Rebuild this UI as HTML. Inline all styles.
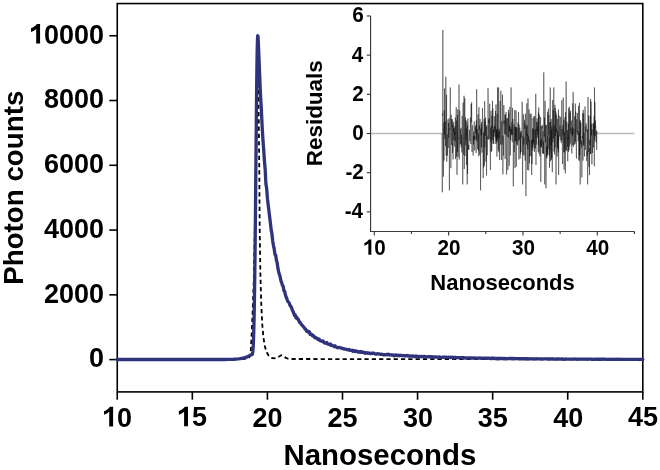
<!DOCTYPE html>
<html><head><meta charset="utf-8"><style>
html,body{margin:0;padding:0;background:#fff;}
body{width:660px;height:470px;overflow:hidden;}
svg{display:block;will-change:transform;}
</style></head><body>
<svg width="660" height="470" viewBox="0 0 660 470">
<rect x="117.25" y="3.55" width="525.55" height="388.35" fill="none" stroke="#000" stroke-width="1.6"/>
<line x1="109.3" y1="359.60" x2="117.25" y2="359.60" stroke="#000" stroke-width="1.6"/>
<text transform="translate(89.09,367.45) scale(0.951,1)" font-size="28.4" font-family="'Liberation Sans',sans-serif" font-weight="bold" fill="#000">0</text>
<line x1="109.3" y1="294.83" x2="117.25" y2="294.83" stroke="#000" stroke-width="1.6"/>
<text transform="translate(43.99,302.68) scale(0.951,1)" font-size="28.4" font-family="'Liberation Sans',sans-serif" font-weight="bold" fill="#000">2000</text>
<line x1="109.3" y1="230.06" x2="117.25" y2="230.06" stroke="#000" stroke-width="1.6"/>
<text transform="translate(43.99,237.91) scale(0.951,1)" font-size="28.4" font-family="'Liberation Sans',sans-serif" font-weight="bold" fill="#000">4000</text>
<line x1="109.3" y1="165.29" x2="117.25" y2="165.29" stroke="#000" stroke-width="1.6"/>
<text transform="translate(43.99,173.14) scale(0.951,1)" font-size="28.4" font-family="'Liberation Sans',sans-serif" font-weight="bold" fill="#000">6000</text>
<line x1="109.3" y1="100.52" x2="117.25" y2="100.52" stroke="#000" stroke-width="1.6"/>
<text transform="translate(43.99,108.37) scale(0.951,1)" font-size="28.4" font-family="'Liberation Sans',sans-serif" font-weight="bold" fill="#000">8000</text>
<line x1="109.3" y1="35.75" x2="117.25" y2="35.75" stroke="#000" stroke-width="1.6"/>
<path transform="translate(29.00,43.60) scale(0.951,1) translate(0.000,0) scale(0.013867,-0.013867)" d="M840 0H545V1060Q390 915 150 845V1100Q290 1145 420 1245Q550 1345 600 1420H840Z" fill="#000"/><text transform="translate(29.00,43.60) scale(0.951,1)" font-size="28.4" font-family="'Liberation Sans',sans-serif" font-weight="bold" fill="#000" xml:space="preserve"> 0000</text>
<line x1="117.25" y1="391.9" x2="117.25" y2="399.7" stroke="#000" stroke-width="1.6"/>
<path transform="translate(102.02,426.50) scale(0.951,1) translate(0.000,0) scale(0.013867,-0.013867)" d="M840 0H545V1060Q390 915 150 845V1100Q290 1145 420 1245Q550 1345 600 1420H840Z" fill="#000"/><text transform="translate(102.02,426.50) scale(0.951,1)" font-size="28.4" font-family="'Liberation Sans',sans-serif" font-weight="bold" fill="#000" xml:space="preserve"> 0</text>
<line x1="192.33" y1="391.9" x2="192.33" y2="399.7" stroke="#000" stroke-width="1.6"/>
<path transform="translate(176.90,426.36) scale(0.951,1) translate(0.000,0) scale(0.013867,-0.013867)" d="M840 0H545V1060Q390 915 150 845V1100Q290 1145 420 1245Q550 1345 600 1420H840Z" fill="#000"/><text transform="translate(176.90,426.36) scale(0.951,1)" font-size="28.4" font-family="'Liberation Sans',sans-serif" font-weight="bold" fill="#000" xml:space="preserve"> 5</text>
<line x1="267.41" y1="391.9" x2="267.41" y2="399.7" stroke="#000" stroke-width="1.6"/>
<text transform="translate(252.59,426.50) scale(0.951,1)" font-size="28.4" font-family="'Liberation Sans',sans-serif" font-weight="bold" fill="#000">20</text>
<line x1="342.49" y1="391.9" x2="342.49" y2="399.7" stroke="#000" stroke-width="1.6"/>
<text transform="translate(327.46,426.50) scale(0.951,1)" font-size="28.4" font-family="'Liberation Sans',sans-serif" font-weight="bold" fill="#000">25</text>
<line x1="417.56" y1="391.9" x2="417.56" y2="399.7" stroke="#000" stroke-width="1.6"/>
<text transform="translate(402.88,426.50) scale(0.951,1)" font-size="28.4" font-family="'Liberation Sans',sans-serif" font-weight="bold" fill="#000">30</text>
<line x1="492.64" y1="391.9" x2="492.64" y2="399.7" stroke="#000" stroke-width="1.6"/>
<text transform="translate(477.75,426.50) scale(0.951,1)" font-size="28.4" font-family="'Liberation Sans',sans-serif" font-weight="bold" fill="#000">35</text>
<line x1="567.72" y1="391.9" x2="567.72" y2="399.7" stroke="#000" stroke-width="1.6"/>
<text transform="translate(553.17,426.50) scale(0.951,1)" font-size="28.4" font-family="'Liberation Sans',sans-serif" font-weight="bold" fill="#000">40</text>
<line x1="642.80" y1="391.9" x2="642.80" y2="399.7" stroke="#000" stroke-width="1.6"/>
<text transform="translate(628.05,426.36) scale(0.951,1)" font-size="28.4" font-family="'Liberation Sans',sans-serif" font-weight="bold" fill="#000">45</text>
<text transform="translate(283.41,464.80) scale(1.015,1)" font-size="29.0" font-family="'Liberation Sans',sans-serif" font-weight="bold" fill="#000">Nanoseconds</text>
<text transform="translate(22.60,187.40) rotate(-90) scale(1.035,1)" x="-94.07" y="0" font-size="26.8" font-family="'Liberation Sans',sans-serif" font-weight="bold">Photon counts</text>
<polyline points="117.50,358.90 245.00,358.90 248.50,358.30 250.30,355.50 251.00,348.00 251.60,335.00 252.50,315.00 253.80,280.00 255.00,220.00 256.20,150.00 256.90,100.00 257.50,82.00 258.10,86.00 258.70,118.00 259.30,170.00 259.70,230.00 260.40,275.00 261.30,305.00 262.30,325.00 263.50,338.00 264.80,346.00 266.50,352.00 268.80,355.80 271.50,357.80 274.00,358.40 277.00,357.80 279.50,356.20 281.50,355.20 283.20,355.80 285.50,357.60 288.00,358.70 292.00,359.00 642.50,359.40" fill="none" stroke="#000" stroke-width="1.8" stroke-dasharray="4.2 3.1"/>
<polyline points="117.25,359.50 119.49,359.50 121.73,359.50 123.97,359.50 126.21,359.50 128.45,359.50 130.69,359.50 132.93,359.50 135.17,359.50 137.41,359.50 139.65,359.50 141.89,359.50 144.13,359.50 146.37,359.50 148.60,359.50 150.84,359.50 153.08,359.50 155.32,359.50 157.56,359.50 159.80,359.50 162.04,359.50 164.28,359.50 166.52,359.50 168.76,359.50 171.00,359.50 173.24,359.50 175.48,359.50 177.72,359.50 179.96,359.50 182.20,359.50 184.44,359.50 186.68,359.50 188.92,359.50 191.16,359.50 193.40,359.50 195.64,359.50 197.88,359.50 200.12,359.50 202.36,359.50 204.60,359.50 206.84,359.50 209.07,359.50 211.31,359.50 213.55,359.50 215.79,359.50 218.03,359.50 220.27,359.50 222.51,359.50 224.75,359.50 226.99,359.46 229.23,359.41 231.47,359.33 233.71,359.23 235.95,359.08 238.19,358.88 240.43,358.60 242.67,358.21 244.91,357.66 247.15,356.90 249.39,355.84 249.49,355.78 249.60,355.72 249.71,355.65 249.81,355.59 249.92,355.53 250.03,355.46 250.13,355.40 250.24,355.33 250.34,355.26 250.45,355.20 250.56,355.13 250.66,355.06 250.77,354.99 250.87,354.92 250.98,354.86 251.09,354.80 251.19,354.74 251.30,354.70 251.41,354.66 251.51,354.64 251.62,354.63 251.72,354.62 251.83,354.62 251.94,354.61 252.04,354.57 252.15,354.49 252.25,354.35 252.36,354.11 252.47,353.76 252.57,353.26 252.68,352.59 252.79,351.73 252.89,350.66 253.00,349.36 253.10,347.81 253.21,345.99 253.32,343.89 253.42,341.50 253.53,338.78 253.64,335.72 253.74,332.30 253.85,328.49 253.95,324.27 254.06,319.62 254.17,314.51 254.27,308.94 254.38,302.88 254.48,296.31 254.59,289.24 254.70,281.66 254.80,273.57 254.91,264.98 255.02,255.89 255.12,246.35 255.23,236.36 255.33,225.97 255.44,215.21 255.55,204.15 255.65,192.84 255.76,181.34 255.86,169.72 255.97,158.07 256.08,146.46 256.18,134.99 256.29,123.75 256.40,112.82 256.50,102.31 256.61,92.31 256.71,82.91 256.82,74.21 256.93,66.27 257.03,59.20 257.14,53.01 257.24,47.78 257.35,43.52 257.46,40.22 257.56,37.87 257.67,36.42 257.78,35.79 257.88,35.90 257.99,36.65 258.09,37.94 258.20,39.67 258.31,41.72 258.41,44.03 258.52,46.51 258.63,49.10 258.73,51.76 258.84,54.45 258.94,57.15 259.05,59.84 259.16,62.51 259.26,65.16 259.37,67.78 259.47,70.37 259.58,72.92 259.69,75.45 259.79,77.94 259.90,81.88 260.65,97.55 261.40,110.69 262.15,126.73 262.90,139.11 263.65,149.38 264.40,160.54 265.15,169.06 265.91,183.88 266.66,188.28 267.41,198.15 268.16,204.75 268.91,210.77 269.66,216.96 270.41,223.10 271.16,229.89 271.91,233.47 272.66,240.74 273.41,245.27 274.16,248.64 274.92,254.34 275.67,255.33 276.42,260.34 277.17,262.69 277.92,268.37 278.67,271.93 279.42,274.41 280.17,276.76 280.92,280.80 281.67,282.51 282.42,285.39 283.17,286.30 283.92,290.68 284.68,291.35 285.43,294.95 286.18,297.23 286.93,298.94 287.68,301.19 288.43,301.87 289.18,302.88 289.93,305.23 290.68,306.46 291.43,307.22 292.18,309.74 292.93,311.22 293.68,312.93 294.44,315.22 295.19,314.77 295.94,317.79 296.69,317.27 297.44,318.87 298.19,319.20 298.94,321.07 299.69,322.60 300.44,322.81 301.19,324.37 301.94,325.05 302.69,325.80 303.44,326.78 304.20,327.65 304.95,328.85 305.70,329.24 306.45,331.15 307.20,330.71 307.95,332.02 308.70,331.39 309.45,331.98 310.20,334.41 310.95,333.88 311.70,334.63 312.45,335.71 313.21,335.44 313.96,336.51 314.71,337.72 315.46,337.46 316.21,337.90 316.96,338.26 317.71,339.39 318.46,338.94 319.21,339.33 319.96,340.66 320.71,340.85 321.46,340.98 322.21,341.60 322.97,340.92 323.72,342.00 324.47,342.90 325.22,343.15 325.97,343.17 326.72,342.48 327.47,343.87 328.22,344.05 328.97,344.19 329.72,344.72 330.47,344.05 331.22,345.48 331.97,345.24 332.73,345.74 333.48,345.81 334.23,346.77 334.98,345.86 335.73,346.83 336.48,347.00 337.23,347.60 337.98,347.73 338.73,347.46 339.48,347.51 340.23,347.80 340.98,347.84 341.73,348.21 342.49,348.64 343.24,348.54 343.99,348.80 344.74,349.22 345.49,349.10 346.24,349.08 346.99,349.60 347.74,349.95 348.49,349.74 349.24,349.50 349.99,350.35 350.74,350.45 351.50,350.60 352.25,350.30 353.00,351.42 353.75,350.84 354.50,350.71 355.25,351.46 356.00,350.87 356.75,351.28 357.50,351.73 358.25,351.61 359.00,352.25 359.75,352.06 360.50,351.46 361.26,352.37 362.01,351.67 362.76,352.33 363.51,352.12 364.26,352.49 365.01,353.23 365.76,352.85 366.51,352.72 367.26,353.18 368.01,353.32 368.76,352.93 369.51,353.30 370.26,353.66 371.02,353.46 371.77,353.12 372.52,353.56 373.27,353.26 374.02,353.18 374.77,353.65 375.52,354.02 376.27,354.14 377.02,353.87 377.77,353.71 378.52,353.93 379.27,353.93 380.03,354.24 380.78,354.12 381.53,354.37 382.28,354.40 383.03,354.70 383.78,354.82 384.53,354.61 385.28,354.82 386.03,354.84 386.78,354.50 387.53,354.75 388.28,354.08 389.03,354.61 389.79,355.03 390.54,354.75 391.29,354.90 392.04,355.19 392.79,354.83 393.54,355.31 394.29,355.87 395.04,355.04 395.79,355.41 396.54,354.98 397.29,355.51 398.04,355.67 398.79,355.11 399.55,355.73 400.30,355.49 401.05,355.26 401.80,355.59 402.55,355.68 403.30,355.68 404.05,355.56 404.80,355.95 405.55,355.69 406.30,355.74 407.05,355.41 407.80,356.00 408.55,356.16 409.31,355.86 410.06,356.12 410.81,356.02 411.56,356.09 412.31,355.91 413.06,356.31 413.81,356.23 414.56,356.75 415.31,356.46 416.06,356.01 416.81,356.48 417.56,356.51 418.32,356.64 419.07,356.33 419.82,356.44 420.57,356.73 421.32,356.41 422.07,356.51 422.82,356.45 423.57,356.74 424.32,356.33 425.07,356.60 425.82,356.73 426.57,356.83 427.32,356.81 428.08,356.63 428.83,356.86 429.58,356.65 430.33,356.76 431.08,356.65 431.83,356.78 432.58,356.96 433.33,357.30 434.08,356.94 434.83,356.88 435.58,357.02 436.33,356.97 437.08,357.17 437.84,357.18 438.59,357.30 439.34,356.93 440.09,357.16 440.84,357.29 441.59,357.45 442.34,357.28 443.09,357.04 443.84,357.22 444.59,357.44 445.34,357.11 446.09,357.13 446.84,357.22 447.60,357.28 448.35,357.24 449.10,357.36 449.85,357.34 450.60,357.61 451.35,357.27 452.10,357.49 452.85,357.23 453.60,357.88 454.35,357.47 455.10,357.45 455.85,357.67 456.61,357.57 457.36,357.54 458.11,357.58 458.86,357.77 459.61,357.73 460.36,357.57 461.11,357.55 461.86,357.74 462.61,357.76 463.36,357.76 464.11,357.66 464.86,357.98 465.61,358.03 466.37,357.84 467.12,358.03 467.87,357.97 468.62,357.89 469.37,357.85 470.12,358.09 470.87,357.84 471.62,358.21 472.37,357.91 473.12,358.21 473.87,358.18 474.62,357.94 475.37,358.10 476.13,358.16 476.88,358.13 477.63,358.02 478.38,358.10 479.13,358.11 479.88,357.99 480.63,358.23 481.38,358.21 482.13,358.23 482.88,358.03 483.63,358.06 484.38,358.04 485.14,358.22 485.89,358.25 486.64,358.13 487.39,358.30 488.14,358.16 488.89,358.19 489.64,358.38 490.39,358.31 491.14,358.33 491.89,358.11 492.64,358.02 493.39,358.36 494.14,358.36 494.90,358.64 495.65,358.36 496.40,358.39 497.15,358.53 497.90,358.32 498.65,358.61 499.40,358.46 500.15,358.43 500.90,358.60 501.65,358.37 502.40,358.36 503.15,358.65 503.90,358.66 504.66,358.44 505.41,358.52 506.16,358.66 506.91,358.57 507.66,358.56 508.41,358.57 509.16,358.48 509.91,358.53 510.66,358.39 511.41,358.45 512.16,358.53 512.91,358.50 513.66,358.48 514.42,358.56 515.17,358.77 515.92,358.56 516.67,358.65 517.42,358.50 518.17,358.66 518.92,358.63 519.67,358.66 520.42,358.53 521.17,358.69 521.92,358.74 522.67,358.69 523.43,358.78 524.18,358.72 524.93,358.75 525.68,358.73 526.43,358.57 527.18,358.81 527.93,358.77 528.68,358.80 529.43,358.73 530.18,358.91 530.93,358.87 531.68,358.82 532.43,358.77 533.19,358.83 533.94,358.88 534.69,358.92 535.44,358.80 536.19,358.72 536.94,358.83 537.69,358.85 538.44,358.84 539.19,358.97 539.94,358.92 540.69,358.92 541.44,358.88 542.19,358.91 542.95,359.02 543.70,358.82 544.45,358.78 545.20,358.96 545.95,358.90 546.70,358.92 547.45,358.88 548.20,359.09 548.95,358.82 549.70,359.01 550.45,358.87 551.20,358.97 551.95,359.02 552.71,359.00 553.46,358.92 554.21,359.07 554.96,359.04 555.71,359.05 556.46,359.16 557.21,358.92 557.96,358.98 558.71,359.04 559.46,358.95 560.21,359.12 560.96,359.06 561.72,358.92 562.47,358.98 563.22,359.24 563.97,359.33 564.72,359.16 565.47,359.00 566.22,359.12 566.97,359.11 567.72,359.05 568.47,359.17 569.22,359.09 569.97,359.05 570.72,359.08 571.48,359.09 572.23,359.16 572.98,359.09 573.73,359.16 574.48,359.04 575.23,358.95 575.98,359.20 576.73,359.30 577.48,359.18 578.23,359.13 578.98,359.08 579.73,359.08 580.48,359.22 581.24,359.23 581.99,359.08 582.74,359.25 583.49,359.11 584.24,359.20 584.99,359.14 585.74,359.14 586.49,359.14 587.24,359.14 587.99,359.27 588.74,359.19 589.49,359.21 590.25,359.19 591.00,359.14 591.75,359.24 592.50,359.27 593.25,359.28 594.00,359.25 594.75,359.19 595.50,359.29 596.25,359.17 597.00,359.23 597.75,359.26 598.50,359.34 599.25,359.24 600.01,359.21 600.76,359.37 601.51,359.19 602.26,359.16 603.01,359.25 603.76,359.24 604.51,359.13 605.26,359.20 606.01,359.34 606.76,359.29 607.51,359.30 608.26,359.30 609.01,359.43 609.77,359.25 610.52,359.34 611.27,359.29 612.02,359.31 612.77,359.26 613.52,359.33 614.27,359.36 615.02,359.28 615.77,359.24 616.52,359.34 617.27,359.24 618.02,359.31 618.77,359.36 619.53,359.24 620.28,359.38 621.03,359.28 621.78,359.36 622.53,359.31 623.28,359.41 624.03,359.39 624.78,359.29 625.53,359.34 626.28,359.35 627.03,359.38 627.78,359.33 628.54,359.43 629.29,359.42 630.04,359.37 630.79,359.41 631.54,359.40 632.29,359.37 633.04,359.38 633.79,359.38 634.54,359.29 635.29,359.33 636.04,359.32 636.79,359.38 637.54,359.41 638.30,359.46 639.05,359.40 639.80,359.49 640.55,359.42 641.30,359.35 642.05,359.31 642.80,359.35" fill="none" stroke="#2e337c" stroke-width="3.3" stroke-linejoin="round" stroke-linecap="round"/>
<line x1="370.58" y1="133.50" x2="441.94" y2="133.50" stroke="#bbb" stroke-width="1.4"/>
<line x1="597.29" y1="133.50" x2="634.45" y2="133.50" stroke="#bbb" stroke-width="1.4"/>
<polyline points="441.94,133.50 442.31,192.27 442.50,113.52 442.68,115.51 442.87,30.06 443.06,137.88 443.24,141.25 443.43,176.60 443.61,134.32 443.80,122.53 443.98,160.64 444.17,110.48 444.36,134.92 444.54,88.44 444.73,135.51 444.91,139.07 445.10,126.70 445.29,121.39 445.47,146.17 445.66,135.74 445.84,76.69 446.03,146.29 446.21,155.75 446.40,127.70 446.59,94.81 446.77,161.71 446.96,145.46 447.14,134.67 447.33,151.03 447.52,155.43 447.70,132.96 447.89,120.32 448.07,119.44 448.26,147.96 448.44,127.84 448.63,122.96 448.82,137.91 449.00,125.50 449.19,118.18 449.37,190.31 449.56,145.45 449.74,128.39 449.93,129.86 450.12,117.36 450.30,87.46 450.49,130.84 450.67,145.81 450.86,168.19 451.05,131.64 451.23,114.81 451.42,144.35 451.60,144.95 451.79,119.12 451.97,124.28 452.16,127.60 452.35,119.46 452.53,153.07 452.72,124.48 452.90,124.64 453.09,159.47 453.28,128.40 453.46,131.50 453.65,122.02 453.83,139.95 454.02,133.77 454.20,128.21 454.39,146.37 454.58,131.56 454.76,135.04 454.95,126.26 455.13,141.17 455.32,117.54 455.51,159.12 455.69,136.12 455.88,124.21 456.06,114.99 456.25,107.18 456.43,156.62 456.62,120.52 456.81,126.67 456.99,174.90 457.18,148.29 457.36,115.03 457.55,152.04 457.74,109.37 457.92,114.37 458.11,157.00 458.29,137.94 458.48,138.77 458.66,129.91 458.85,111.25 459.04,84.53 459.22,159.62 459.41,127.63 459.59,123.16 459.78,110.30 459.97,127.31 460.15,144.46 460.34,129.13 460.52,133.74 460.71,136.49 460.89,144.29 461.08,127.81 461.27,147.45 461.45,134.87 461.64,136.76 461.82,152.38 462.01,140.64 462.20,115.77 462.38,136.30 462.57,154.65 462.75,184.43 462.94,125.71 463.12,102.53 463.31,132.58 463.50,140.28 463.68,154.77 463.87,114.05 464.05,95.75 464.24,168.96 464.43,143.01 464.61,124.74 464.80,98.29 464.98,155.96 465.17,138.64 465.35,130.68 465.54,117.41 465.73,145.32 465.91,120.00 466.10,139.67 466.28,128.68 466.47,164.92 466.66,154.80 466.84,121.81 467.03,142.17 467.21,184.43 467.40,125.53 467.58,174.01 467.77,121.57 467.96,118.56 468.14,135.14 468.33,143.76 468.51,149.16 468.70,145.07 468.88,150.10 469.07,141.54 469.26,134.86 469.44,129.80 469.63,138.48 469.81,141.08 470.00,137.18 470.19,130.19 470.37,117.57 470.56,125.01 470.74,142.96 470.93,144.13 471.11,103.96 471.30,122.38 471.49,106.59 471.67,102.21 471.86,145.52 472.04,151.94 472.23,126.77 472.42,125.28 472.60,125.54 472.79,130.53 472.97,130.94 473.16,155.58 473.34,135.93 473.53,144.48 473.72,131.65 473.90,140.37 474.09,124.41 474.27,121.47 474.46,128.96 474.65,150.44 474.83,135.62 475.02,140.08 475.20,135.92 475.39,126.73 475.57,127.80 475.76,133.29 475.95,124.96 476.13,153.02 476.32,120.46 476.50,139.03 476.69,89.19 476.88,136.40 477.06,141.78 477.25,129.22 477.43,141.94 477.62,149.21 477.80,145.93 477.99,114.22 478.18,132.85 478.36,150.65 478.55,133.38 478.73,156.36 478.92,107.21 479.11,129.85 479.29,126.47 479.48,125.51 479.66,154.80 479.85,131.03 480.03,118.85 480.22,126.63 480.41,129.67 480.59,190.31 480.78,131.14 480.96,128.56 481.15,135.36 481.34,124.22 481.52,147.33 481.71,121.87 481.89,152.64 482.08,149.52 482.26,128.13 482.45,108.14 482.64,119.37 482.82,141.08 483.01,162.38 483.19,178.11 483.38,161.12 483.57,132.18 483.75,167.55 483.94,130.68 484.12,118.96 484.31,165.61 484.49,155.16 484.68,101.13 484.87,147.36 485.05,121.37 485.24,135.95 485.42,133.87 485.61,117.46 485.79,137.38 485.98,161.59 486.17,131.30 486.35,126.95 486.54,175.45 486.72,129.06 486.91,125.09 487.10,141.42 487.28,155.20 487.47,136.75 487.65,136.60 487.84,138.68 488.02,88.20 488.21,108.15 488.40,139.62 488.58,123.23 488.77,119.68 488.95,123.02 489.14,118.11 489.33,139.22 489.51,122.63 489.70,103.76 489.88,121.69 490.07,142.61 490.25,158.12 490.44,170.01 490.63,128.08 490.81,141.78 491.00,110.83 491.18,151.86 491.37,126.10 491.56,133.74 491.74,151.04 491.93,115.58 492.11,128.39 492.30,121.83 492.48,100.84 492.67,139.84 492.86,108.51 493.04,143.62 493.23,129.63 493.41,144.08 493.60,130.43 493.79,132.84 493.97,126.59 494.16,136.60 494.34,116.21 494.53,131.32 494.71,129.18 494.90,125.55 495.09,126.80 495.27,143.92 495.46,111.04 495.64,128.57 495.83,137.65 496.02,104.34 496.20,140.58 496.39,129.41 496.57,143.28 496.76,129.44 496.94,156.68 497.13,113.95 497.32,141.04 497.50,87.46 497.69,138.24 497.87,138.95 498.06,131.26 498.25,150.33 498.43,127.66 498.62,87.46 498.80,152.29 498.99,128.54 499.17,138.07 499.36,130.67 499.55,160.12 499.73,150.41 499.92,126.75 500.10,101.03 500.29,144.49 500.48,143.86 500.66,130.94 500.85,90.70 501.03,119.82 501.22,146.78 501.40,160.07 501.59,134.15 501.78,121.10 501.96,131.60 502.15,144.62 502.33,130.39 502.52,94.73 502.71,114.81 502.89,174.38 503.08,135.59 503.26,146.36 503.45,155.60 503.63,136.05 503.82,105.10 504.01,124.41 504.19,120.42 504.38,130.76 504.56,134.09 504.75,128.50 504.93,114.47 505.12,159.11 505.31,138.66 505.49,114.77 505.68,130.68 505.86,134.64 506.05,111.94 506.24,141.82 506.42,149.96 506.61,174.53 506.79,118.56 506.98,133.35 507.16,136.65 507.35,118.13 507.54,127.06 507.72,128.04 507.91,169.86 508.09,136.92 508.28,125.68 508.47,109.85 508.65,137.60 508.84,112.55 509.02,144.21 509.21,165.79 509.39,125.12 509.58,131.93 509.77,119.36 509.95,106.85 510.14,130.27 510.32,155.54 510.51,126.92 510.70,140.04 510.88,128.36 511.07,87.46 511.25,135.22 511.44,128.85 511.62,133.70 511.81,122.35 512.00,126.13 512.18,141.54 512.37,142.14 512.55,107.88 512.74,134.99 512.93,118.93 513.11,127.72 513.30,186.39 513.48,144.50 513.67,131.74 513.85,129.73 514.04,124.47 514.23,152.11 514.41,142.24 514.60,134.89 514.78,109.98 514.97,168.18 515.16,127.05 515.34,141.43 515.53,127.16 515.71,140.73 515.90,128.14 516.08,110.51 516.27,166.78 516.46,127.13 516.64,128.02 516.83,144.52 517.01,127.46 517.20,136.56 517.39,145.43 517.57,140.04 517.76,136.84 517.94,122.43 518.13,134.13 518.31,141.28 518.50,112.11 518.69,118.98 518.87,159.55 519.06,124.57 519.24,135.11 519.43,139.66 519.62,137.60 519.80,127.82 519.99,131.86 520.17,158.63 520.36,134.07 520.54,154.31 520.73,131.06 520.92,151.19 521.10,152.07 521.29,131.76 521.47,134.65 521.66,137.46 521.85,122.51 522.03,101.72 522.22,102.61 522.40,106.76 522.59,184.43 522.77,140.76 522.96,136.13 523.15,154.73 523.33,114.41 523.52,126.26 523.70,144.54 523.89,137.57 524.07,155.78 524.26,138.61 524.45,119.74 524.63,128.84 524.82,123.58 525.00,131.34 525.19,160.71 525.38,113.67 525.56,140.22 525.75,144.38 525.93,196.19 526.12,138.84 526.30,126.10 526.49,144.62 526.68,108.67 526.86,103.34 527.05,136.32 527.23,125.11 527.42,169.97 527.61,133.77 527.79,149.08 527.98,98.39 528.16,118.38 528.35,141.57 528.53,136.36 528.72,170.45 528.91,123.03 529.09,109.56 529.28,144.21 529.46,163.33 529.65,140.09 529.84,156.25 530.02,119.75 530.21,113.59 530.39,130.14 530.58,134.43 530.76,144.63 530.95,156.14 531.14,113.74 531.32,118.01 531.51,151.75 531.69,174.94 531.88,139.64 532.07,164.07 532.25,140.54 532.44,147.78 532.62,128.81 532.81,150.72 532.99,118.07 533.18,144.36 533.37,128.26 533.55,142.23 533.74,138.24 533.92,115.99 534.11,147.45 534.30,139.30 534.48,151.89 534.67,116.46 534.85,122.73 535.04,138.30 535.22,129.93 535.41,148.63 535.60,148.41 535.78,93.80 535.97,164.97 536.15,129.15 536.34,144.45 536.53,122.66 536.71,121.97 536.90,130.96 537.08,118.24 537.27,137.72 537.45,135.16 537.64,126.55 537.83,134.00 538.01,121.84 538.20,151.90 538.38,112.55 538.57,144.98 538.76,107.41 538.94,153.74 539.13,124.68 539.31,114.78 539.50,117.76 539.68,121.26 539.87,156.38 540.06,144.99 540.24,140.30 540.43,147.23 540.61,117.00 540.80,181.87 540.99,133.86 541.17,126.34 541.36,147.48 541.54,139.05 541.73,146.45 541.91,126.19 542.10,128.48 542.29,125.01 542.47,125.48 542.66,153.44 542.84,141.74 543.03,131.33 543.21,153.32 543.40,141.32 543.59,154.08 543.77,72.38 543.96,117.68 544.14,132.87 544.33,136.61 544.52,117.64 544.70,184.43 544.89,176.40 545.07,100.85 545.26,138.90 545.44,142.47 545.63,129.95 545.82,124.71 546.00,188.35 546.19,131.21 546.37,125.32 546.56,157.00 546.75,146.12 546.93,158.47 547.12,147.14 547.30,153.21 547.49,111.84 547.67,155.36 547.86,136.12 548.05,148.52 548.23,130.05 548.42,108.58 548.60,135.67 548.79,114.77 548.98,129.26 549.16,155.22 549.35,137.27 549.53,167.78 549.72,122.22 549.90,150.44 550.09,104.58 550.28,87.46 550.46,161.25 550.65,121.98 550.83,128.13 551.02,145.11 551.21,119.02 551.39,159.92 551.58,129.80 551.76,157.91 551.95,126.41 552.13,159.77 552.32,172.18 552.51,127.68 552.69,99.89 552.88,142.25 553.06,121.30 553.25,109.94 553.44,138.25 553.62,124.46 553.81,87.46 553.99,151.65 554.18,125.21 554.36,128.43 554.55,154.43 554.74,109.78 554.92,104.86 555.11,147.50 555.29,107.97 555.48,132.68 555.67,135.90 555.85,111.41 556.04,184.43 556.22,128.75 556.41,132.13 556.59,114.57 556.78,120.38 556.97,154.08 557.15,156.60 557.34,118.81 557.52,147.12 557.71,131.32 557.90,149.28 558.08,136.20 558.27,152.29 558.45,109.55 558.64,175.03 558.82,135.29 559.01,136.27 559.20,115.78 559.38,125.13 559.57,130.71 559.75,136.57 559.94,125.71 560.12,126.56 560.31,140.31 560.50,129.98 560.68,116.81 560.87,126.62 561.05,135.01 561.24,143.13 561.43,133.90 561.61,128.16 561.80,100.21 561.98,140.72 562.17,128.99 562.35,151.36 562.54,164.03 562.73,159.11 562.91,124.92 563.10,135.18 563.28,97.65 563.47,127.75 563.66,151.99 563.84,119.96 564.03,169.70 564.21,167.49 564.40,131.81 564.58,145.97 564.77,152.58 564.96,117.08 565.14,156.11 565.33,173.44 565.51,112.18 565.70,144.74 565.89,149.78 566.07,81.59 566.26,92.43 566.44,120.84 566.63,151.06 566.81,121.63 567.00,132.12 567.19,139.86 567.37,146.66 567.56,130.01 567.74,161.31 567.93,137.55 568.12,139.32 568.30,123.53 568.49,151.92 568.67,108.33 568.86,138.08 569.04,150.22 569.23,106.69 569.42,109.07 569.60,136.26 569.79,146.59 569.97,112.75 570.16,143.64 570.35,138.08 570.53,110.60 570.72,127.74 570.90,131.36 571.09,128.42 571.27,134.35 571.46,121.14 571.65,120.58 571.83,153.59 572.02,131.96 572.20,145.29 572.39,127.31 572.58,136.23 572.76,103.38 572.95,133.36 573.13,91.85 573.32,123.59 573.50,146.72 573.69,140.81 573.88,128.71 574.06,135.36 574.25,144.72 574.43,141.59 574.62,116.33 574.81,116.37 574.99,144.09 575.18,141.91 575.36,103.55 575.55,141.64 575.73,111.62 575.92,114.17 576.11,135.74 576.29,154.35 576.48,158.54 576.66,123.62 576.85,119.28 577.04,132.44 577.22,115.80 577.41,113.07 577.59,134.78 577.78,132.26 577.96,130.94 578.15,141.27 578.34,138.18 578.52,105.91 578.71,119.04 578.89,159.79 579.08,132.27 579.26,160.93 579.45,102.77 579.64,141.04 579.82,154.90 580.01,120.84 580.19,184.43 580.38,120.36 580.57,142.35 580.75,144.19 580.94,122.58 581.12,141.14 581.31,143.41 581.49,147.38 581.68,140.40 581.87,177.51 582.05,151.32 582.24,135.98 582.42,138.32 582.61,137.29 582.80,112.89 582.98,160.58 583.17,109.81 583.35,145.07 583.54,141.85 583.72,113.83 583.91,145.60 584.10,132.88 584.28,142.07 584.47,156.44 584.65,130.78 584.84,115.94 585.03,106.48 585.21,113.48 585.40,150.06 585.58,144.28 585.77,126.07 585.95,132.06 586.14,123.35 586.33,144.40 586.51,148.66 586.70,160.93 586.88,151.19 587.07,155.44 587.26,154.47 587.44,128.97 587.63,184.43 587.81,162.71 588.00,97.01 588.18,145.77 588.37,151.95 588.56,115.28 588.74,116.38 588.93,166.77 589.11,155.16 589.30,148.19 589.49,175.11 589.67,139.67 589.86,145.38 590.04,126.84 590.23,115.81 590.41,153.92 590.60,98.85 590.79,153.83 590.97,101.59 591.16,106.78 591.34,119.53 591.53,135.46 591.72,123.82 591.90,164.38 592.09,129.44 592.27,135.93 592.46,152.96 592.64,143.85 592.83,138.65 593.02,125.06 593.20,123.21 593.39,129.64 593.57,147.37 593.76,123.57 593.95,135.28 594.13,116.16 594.32,166.21 594.50,87.46 594.69,140.50 594.87,101.89 595.06,126.61 595.25,136.36 595.43,120.52 595.62,127.30 595.80,126.72 595.99,141.05 596.18,142.49 596.36,130.54 596.55,142.94 596.73,149.94 596.92,131.46 597.29,133.50" fill="none" stroke="#000" stroke-width="0.42"/>
<path d="M370.58,15.96V231.45H634.45" fill="none" stroke="#3a3a3a" stroke-width="1.15"/>
<line x1="366.78" y1="211.86" x2="370.58" y2="211.86" stroke="#333" stroke-width="1.1"/>
<text transform="translate(344.70,218.35) scale(0.94,1)" font-size="22" font-family="'Liberation Sans',sans-serif" font-weight="bold" fill="#000">-4</text>
<line x1="366.78" y1="172.68" x2="370.58" y2="172.68" stroke="#333" stroke-width="1.1"/>
<text transform="translate(345.42,179.28) scale(0.94,1)" font-size="22" font-family="'Liberation Sans',sans-serif" font-weight="bold" fill="#000">-2</text>
<line x1="366.78" y1="133.50" x2="370.58" y2="133.50" stroke="#333" stroke-width="1.1"/>
<text transform="translate(352.35,139.99) scale(0.94,1)" font-size="22" font-family="'Liberation Sans',sans-serif" font-weight="bold" fill="#000">0</text>
<line x1="366.78" y1="94.32" x2="370.58" y2="94.32" stroke="#333" stroke-width="1.1"/>
<text transform="translate(352.35,100.92) scale(0.94,1)" font-size="22" font-family="'Liberation Sans',sans-serif" font-weight="bold" fill="#000">2</text>
<line x1="366.78" y1="55.14" x2="370.58" y2="55.14" stroke="#333" stroke-width="1.1"/>
<text transform="translate(351.63,61.63) scale(0.94,1)" font-size="22" font-family="'Liberation Sans',sans-serif" font-weight="bold" fill="#000">4</text>
<line x1="366.78" y1="15.96" x2="370.58" y2="15.96" stroke="#333" stroke-width="1.1"/>
<text transform="translate(352.25,22.45) scale(0.94,1)" font-size="22" font-family="'Liberation Sans',sans-serif" font-weight="bold" fill="#000">6</text>
<line x1="374.30" y1="231.45" x2="374.30" y2="235.45" stroke="#333" stroke-width="1.1"/>
<path transform="translate(362.86,254.79) scale(0.94,1) translate(0.000,0) scale(0.010742,-0.010742)" d="M840 0H545V1060Q390 915 150 845V1100Q290 1145 420 1245Q550 1345 600 1420H840Z" fill="#000"/><text transform="translate(362.86,254.79) scale(0.94,1)" font-size="22" font-family="'Liberation Sans',sans-serif" font-weight="bold" fill="#000" xml:space="preserve"> 0</text>
<line x1="411.47" y1="231.45" x2="411.47" y2="233.95" stroke="#333" stroke-width="1.1"/>
<line x1="448.63" y1="231.45" x2="448.63" y2="235.45" stroke="#333" stroke-width="1.1"/>
<text transform="translate(437.50,254.79) scale(0.94,1)" font-size="22" font-family="'Liberation Sans',sans-serif" font-weight="bold" fill="#000">20</text>
<line x1="485.80" y1="231.45" x2="485.80" y2="233.95" stroke="#333" stroke-width="1.1"/>
<line x1="522.96" y1="231.45" x2="522.96" y2="235.45" stroke="#333" stroke-width="1.1"/>
<text transform="translate(511.94,254.79) scale(0.94,1)" font-size="22" font-family="'Liberation Sans',sans-serif" font-weight="bold" fill="#000">30</text>
<line x1="560.12" y1="231.45" x2="560.12" y2="233.95" stroke="#333" stroke-width="1.1"/>
<line x1="597.29" y1="231.45" x2="597.29" y2="235.45" stroke="#333" stroke-width="1.1"/>
<text transform="translate(586.37,254.79) scale(0.94,1)" font-size="22" font-family="'Liberation Sans',sans-serif" font-weight="bold" fill="#000">40</text>
<line x1="634.45" y1="231.45" x2="634.45" y2="233.95" stroke="#333" stroke-width="1.1"/>
<text transform="translate(430.36,289.80) scale(1.04,1)" font-size="21.2" font-family="'Liberation Sans',sans-serif" font-weight="bold" fill="#000">Nanoseconds</text>
<text transform="translate(321.70,113.00) rotate(-90) scale(1.015,1)" x="-52.43" y="0" font-size="22.1" font-family="'Liberation Sans',sans-serif" font-weight="bold">Residuals</text>
</svg>
</body></html>
